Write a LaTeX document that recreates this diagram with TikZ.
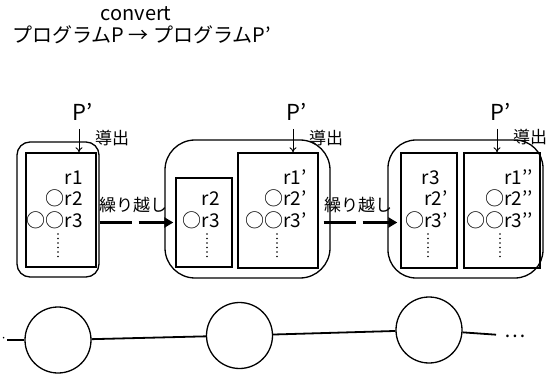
\documentclass[tikz,border=0pt]{standalone}
\usepackage{fontspec}
\setmainfont{Noto Sans CJK JP}
\usetikzlibrary{arrows.meta,calc}
\begin{document}
\begin{tikzpicture}[x=1pt,y=-1pt,
  outerbox/.style={draw, line width=1.3pt, rounded corners=#1, inner sep=0},
  innerbox/.style={draw, line width=1.3pt, inner sep=0},
  reg/.style={font=\fontsize{19}{21}\selectfont, inner sep=0, anchor=base east},
  plabel/.style={font=\fontsize{22}{24}\selectfont, inner sep=0},
  small/.style={font=\fontsize{17}{20}\selectfont, inner sep=0},
  big/.style={font=\fontsize{20}{24}\selectfont, inner sep=0},
  derive/.style={-{To[length=5pt,width=7pt]}, line width=0.9pt},
  carry/.style={-{Triangle[length=9pt,width=10pt]}, line width=2.6pt, dash pattern=on 32pt off 7pt},
  vdots/.style={line width=1.9pt, line cap=round, dash pattern=on 0pt off 4.5pt},
  ball/.style={draw, circle, line width=1.3pt, minimum size=66pt, inner sep=0},
  link/.style={line width=1.8pt}
]
\useasboundingbox (0,0) rectangle (546,374);

% title
\node[big] (conv) at (136,14) {convert};
\node[big, anchor=west] (title) at (12,35) {プログラムP → プログラムP’};

% boxes
\node[outerbox=13pt, minimum width=82pt, minimum height=135pt] (o1) at (58,209.5) {};
\node[innerbox, minimum width=70pt, minimum height=114pt] (i1) at (61,210) {};
\node[outerbox=30pt, minimum width=165pt, minimum height=138pt] (o2) at (247.5,209) {};
\node[innerbox, minimum width=56pt, minimum height=89pt] (i2a) at (204,222.5) {};
\node[innerbox, minimum width=80pt, minimum height=115pt] (i2b) at (278,210.5) {};
\node[outerbox=28pt, minimum width=155pt, minimum height=138pt] (o3) at (465.5,209) {};
\node[innerbox, minimum width=56pt, minimum height=115pt] (i3a) at (429,210.5) {};
\node[innerbox, minimum width=76pt, minimum height=115pt] (i3b) at (502,210.5) {};

% register texts
\node[reg] (t1a) at (83,185) {r1};
\node[reg] (t1b) at (83,206) {○r2};
\node[reg] (t1c) at (83,227.5) {○○r3};
\draw[vdots] (58,234) -- (58,257);

\node[reg] (t2a) at (220,206) {r2};
\node[reg] (t2b) at (220,227.5) {○r3};
\draw[vdots] (207,234) -- (207,257);

\node[reg] (t2c) at (307,185) {r1’};
\node[reg] (t2d) at (307,206) {○r2’};
\node[reg] (t2e) at (307,227.5) {○○r3’};
\draw[vdots] (277,234) -- (277,257);

\node[reg] (t3a) at (440,185) {r3};
\node[reg] (t3b) at (448,206) {r2’};
\node[reg] (t3c) at (448,227.5) {○r3’};
\draw[vdots] (428,234) -- (428,257);

\node[reg] (t3d) at (533,185) {r1’’};
\node[reg] (t3e) at (533,206) {○r2’’};
\node[reg] (t3f) at (533,227.5) {○○r3’’};
\draw[vdots] (500,234) -- (500,257);

% P' and derive arrows
\node[plabel] (p1) at (83,112) {P’};
\node[plabel] (p2) at (297,112) {P’};
\node[plabel] (p3) at (501,112) {P’};
\coordinate (d1) at ($(p1.south)+(-4,8)$);
\coordinate (d2) at ($(p2.south)+(-4,8)$);
\coordinate (d3) at ($(p3.south)+(-4,8)$);
\draw[derive] (d1) -- (d1 |- i1.north);
\draw[derive] (d2) -- (d2 |- i2b.north);
\draw[derive] (d3) -- (d3 |- i3b.north);
\node[small] (der1) at (112,138) {導出};
\node[small] (der2) at (326,138) {導出};
\node[small] (der3) at (530,137) {導出};

% carry arrows
\draw[carry, shorten >=2pt] (i2a.west -| o1.east) -- (i2a.west);
\coordinate (c2s) at ($(i2b.east |- i2a.west)+(5,0)$);
\draw[carry, shorten >=3pt] (c2s) -- (c2s -| i3a.west);
\node[small] (k1) at (133,205) {繰り越し};
\node[small] (k2) at (358,205) {繰り越し};

% bottom chain
\node[ball] (c1) at (58,340) {};
\node[ball] (c2) at (239.5,335.5) {};
\node[ball] (c3) at (429,330) {};
\node[font=\fontsize{12}{14}\selectfont, inner sep=0, anchor=west] (ld) at (0.3,340) {·};
\node[big, anchor=west] (rd) at (504,336) {…};
\draw[link] (ld) -- (c1);
\draw[link] (c1) -- (c2);
\draw[link] (c2) -- (c3);
\draw[link, shorten >=8pt] (c3) -- (rd);
\end{tikzpicture}
\end{document}
